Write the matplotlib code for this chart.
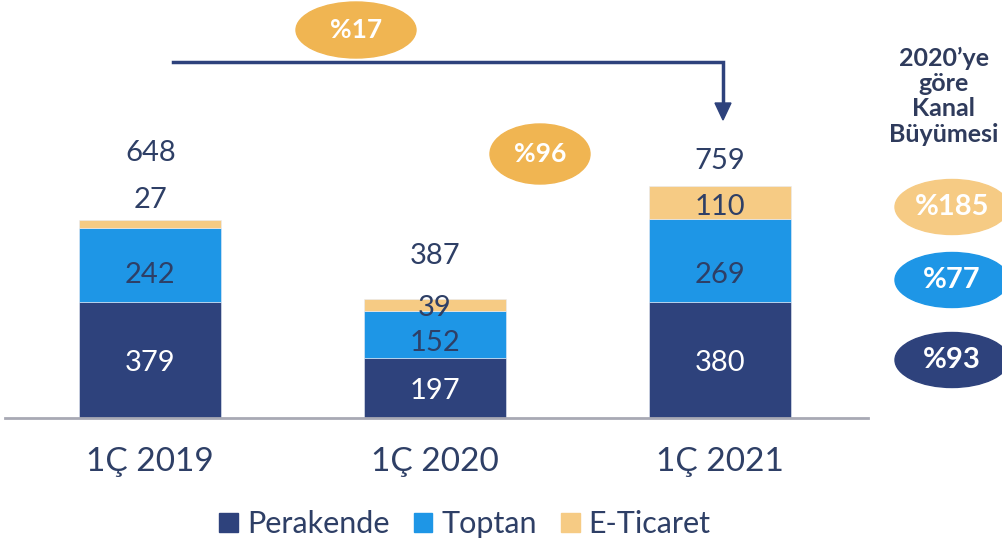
import matplotlib
matplotlib.use("Agg")
import matplotlib.pyplot as plt
from matplotlib.patches import Ellipse, Polygon, Patch

plt.rcParams["font.family"] = ["Lato", "DejaVu Sans"]

# data
kategoriler = ["1Ç 2019", "1Ç 2020", "1Ç 2021"]
perakende = [379, 197, 380]
toptan = [242, 152, 269]
eticaret = [27, 39, 110]
toplam = [648, 387, 759]
buyume_kanal = ["%185", "%77", "%93"]   # E-Ticaret, Toptan, Perakende
buyume_toplam = "%17"
buyume_eticaret_2020 = "%96"

# colours
C_PER = "#2E427C"
C_TOP = "#1E96E6"
C_ETI = "#F6CB84"
C_ORG = "#F0B552"
C_TXT = "#2E3F66"

# label offsets (data units), manual like the original slide
off_tot = [218, 142, 81]
off_eti = [64, -10, -15]
off_top = [-33, -28, -47]
off_per = -10

fig = plt.figure(figsize=(10.02, 5.45), dpi=100)
ax = fig.add_axes([5 / 1002, 127 / 545, 863 / 1002, 418 / 545])

x = range(len(kategoriler))
w = 0.5
ax.bar(x, perakende, w, color=C_PER, edgecolor="#E8ECF5", linewidth=0.4)
ax.bar(x, toptan, w, bottom=perakende, color=C_TOP, edgecolor="#E8ECF5", linewidth=0.4)
alt2 = [p + t for p, t in zip(perakende, toptan)]
ax.bar(x, eticaret, w, bottom=alt2, color=C_ETI, edgecolor="#E8ECF5", linewidth=0.4)

fs = 21
kw = dict(ha="center", va="center", fontsize=fs)
for i in x:
    ax.text(i, perakende[i] / 2 + off_per, str(perakende[i]), color="white", **kw)
    ax.text(i, perakende[i] + toptan[i] / 2 + off_top[i], str(toptan[i]),
            color=C_TXT, **kw)
    if off_eti[i] > 0:
        y_e = alt2[i] + eticaret[i] + off_eti[i]   # label above a thin segment
    else:
        y_e = alt2[i] + eticaret[i] / 2 + off_eti[i]
    ax.text(i, y_e, str(eticaret[i]), color=C_TXT, **kw)
    ax.text(i, toplam[i] + off_tot[i], str(toplam[i]), color=C_TXT, **kw)

ax.set_xlim(-0.51, 2.52)
ax.set_ylim(0, 1366)
ax.set_xticks(list(x))
ax.set_xticklabels(kategoriler, fontsize=24, color=C_TXT)
ax.tick_params(axis="x", length=0, pad=21)
ax.set_yticks([])
for s in ["top", "right", "left"]:
    ax.spines[s].set_visible(False)
ax.spines["bottom"].set_color("#A8A9B4")
ax.spines["bottom"].set_linewidth(2)

handles = [Patch(color=C_PER, label="Perakende"),
           Patch(color=C_TOP, label="Toptan"),
           Patch(color=C_ETI, label="E-Ticaret")]
fig.legend(handles=handles, loc="center", bbox_to_anchor=(465 / 1002, 1 - 524 / 545),
           ncol=3, frameon=False, fontsize=22, handlelength=0.6, handleheight=0.6,
           handletextpad=0.3, columnspacing=0.8, labelcolor=C_TXT)

# overlay for the slide decorations (pixel coords)
ov = fig.add_axes([0, 0, 1, 1], zorder=5)
ov.set_xlim(0, 1002)
ov.set_ylim(545, 0)
ov.axis("off")
ov.patch.set_alpha(0)

# arrow 2019 -> 2021
ov.plot([173, 723, 723], [62, 62, 104], color=C_PER, lw=2.5, solid_joinstyle="miter")
ov.add_patch(Polygon([[715, 103], [731, 103], [723, 120]], closed=True, color=C_PER))

def ellipse(cx, cy, ew, eh, col, txt, size=19):
    ov.add_patch(Ellipse((cx, cy), ew, eh, color=col, clip_on=False))
    ov.text(cx, cy, txt, ha="center", va="center", color="white",
            fontsize=size, fontweight="bold")

ellipse(356, 30, 120, 56, C_ORG, buyume_toplam)
ellipse(540, 154, 100, 60, C_ORG, buyume_eticaret_2020)

ov.text(944, 96, "2020’ye\ngöre\nKanal\nBüyümesi", ha="center", va="center",
        fontsize=18, fontweight="bold", color="#2F3B5C", linespacing=1.12)
for cy, col, txt in zip([207, 280, 360], [C_ETI, C_TOP, C_PER], buyume_kanal):
    ellipse(952, cy, 114, 55, col, txt, size=21)

fig.savefig("out.png", dpi=100)
